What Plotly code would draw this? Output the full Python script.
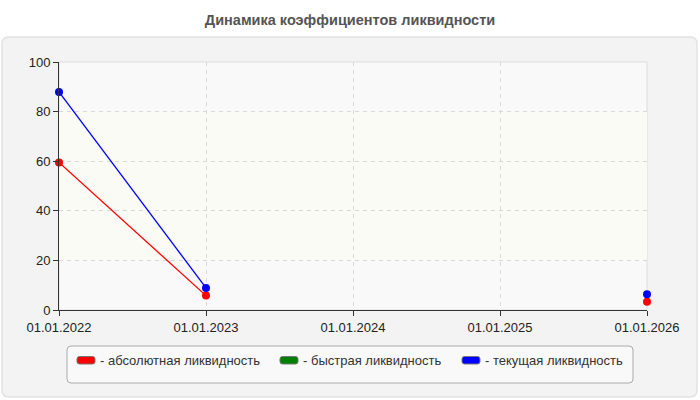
import plotly.graph_objects as go

dates = ["01.01.2022", "01.01.2023", "01.01.2024", "01.01.2025", "01.01.2026"]
absolute_liq = [59.5, 5.8, None, None, 3.3]
quick_liq = [None, None, None, None, None]
current_liq = [87.9, 8.9, None, None, 6.4]

series_names = ["- абсолютная ликвидность", "- быстрая ликвидность", "- текущая ликвидность"]
series_colors = ["#ff0000", "#008000", "#0000ff"]
series_values = [absolute_liq, quick_liq, current_liq]

# plot area in pixels (for layout of the decorations)
PL, PR, PT, PB = 59, 647, 62, 310
def px(x):
    return (x - PL) / (PR - PL)
def py(y):
    return (PB - y) / (PB - PT)

fig = go.Figure()

for name, color, vals in zip(series_names, series_colors, series_values):
    fig.add_trace(go.Scatter(
        x=dates, y=vals, mode="lines+markers", name=name,
        line=dict(color=color, width=1.3),
        marker=dict(color=color, size=8),
        connectgaps=False, cliponaxis=False, showlegend=False,
    ))

def rounded(x0, x1, y0, y1, rpx):
    X0, X1, Y0, Y1 = px(x0), px(x1), py(y1), py(y0)
    rx = rpx / (PR - PL)
    ry = rpx / (PB - PT)
    return (f"M{X0+rx},{Y1} L{X1-rx},{Y1} Q{X1},{Y1} {X1},{Y1-ry} "
            f"L{X1},{Y0+ry} Q{X1},{Y0} {X1-rx},{Y0} L{X0+rx},{Y0} "
            f"Q{X0},{Y0} {X0},{Y0+ry} L{X0},{Y1-ry} Q{X0},{Y1} {X0+rx},{Y1} Z")

shapes = [
    dict(type="path", xref="paper", yref="paper", path=rounded(2, 697, 37, 397, 7),
         fillcolor="#f3f3f3", line=dict(color="#e2e2e2", width=1.5), layer="below"),
    dict(type="rect", xref="paper", yref="paper", x0=0, x1=1, y0=0, y1=1,
         fillcolor="#f9f9f9", line=dict(color="#dddddd", width=1), layer="below"),
    dict(type="rect", xref="paper", yref="y", x0=0, x1=1, y0=20, y1=80,
         fillcolor="#fbfbf5", line=dict(width=0), layer="below"),
    dict(type="path", xref="paper", yref="paper", path=rounded(67, 633, 346, 383, 4),
         fillcolor="#f9f9f9", line=dict(color="#aaaaaa", width=1), layer="above"),
]

annotations = []
swatch_x = [77, 280, 462]
for sx, name, color in zip(swatch_x, series_names, series_colors):
    shapes.append(dict(type="path", xref="paper", yref="paper",
                       path=rounded(sx, sx + 18, 356.5, 364, 2.5),
                       fillcolor=color, line=dict(color="#777777", width=1), layer="above"))
    annotations.append(dict(x=px(sx + 21), y=py(360), xref="paper", yref="paper",
                            xanchor="left", yanchor="middle", showarrow=False,
                            text=name, font=dict(size=13, color="#333")))

grid = dict(showgrid=True, gridcolor="#d9d9d9", griddash="4px,4px", gridwidth=1,
            showline=True, linecolor="#333", linewidth=1,
            ticks="outside", ticklen=5, tickcolor="#333",
            tickfont=dict(size=13, color="#222"), zeroline=False, fixedrange=True)

fig.update_layout(
    width=700, height=400,
    margin=dict(l=PL, r=700 - PR, t=PT, b=400 - PB),
    paper_bgcolor="white",
    plot_bgcolor="rgba(0,0,0,0)",
    font=dict(family="Liberation Sans, Arial, sans-serif", size=13, color="#222"),
    title=dict(text="<b>Динамика коэффициентов ликвидности</b>",
               x=0.5, xref="container", xanchor="center",
               y=1 - 20/400, yref="container", yanchor="middle",
               font=dict(size=14.5, color="#555")),
    shapes=shapes,
    annotations=annotations,
    showlegend=False,
    hovermode=False,
    xaxis=dict(type="category", range=[0, 4], **grid),
    yaxis=dict(range=[0, 100], dtick=20, **grid),
)

fig.write_html("out.html", config={"displayModeBar": False},
               post_script="document.body.style.margin='0';")
